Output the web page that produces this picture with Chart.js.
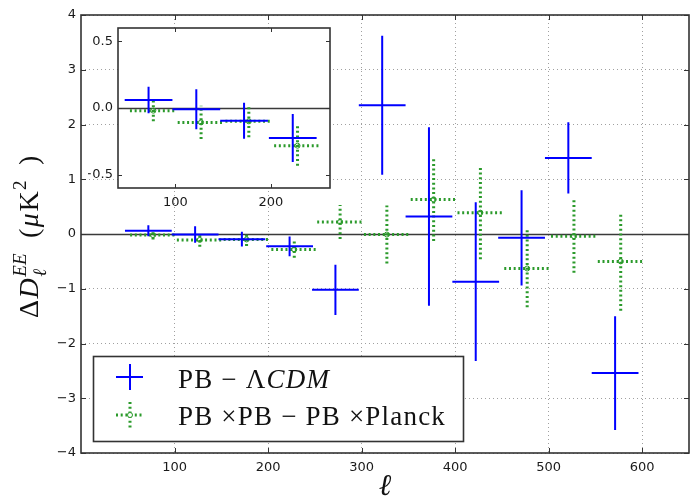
<!DOCTYPE html>
<html>
<head>
<meta charset="utf-8">
<script src="https://cdn.jsdelivr.net/npm/chart.js@4.4.1/dist/chart.umd.min.js"></script>
<style>
  html, body { margin: 0; padding: 0; background: #fff; }
  #wrap { position: relative; width: 697px; height: 502px; }
  #wrap canvas { position: absolute; left: 0; top: 0; }
</style>
</head>
<body>
<div id="wrap">
  <canvas id="main" width="697" height="502"></canvas>
  <canvas id="inset" width="697" height="502"></canvas>
</div>
<script>
// PB - LCDM: bin centres, values and errors
const blueCenters = [72, 122, 172, 223, 272, 322, 372, 422, 471, 521, 571];
const blueValues = [0.06, -0.01, -0.095, -0.225, -1.02, 2.35, 0.32, -0.87, -0.07, 1.39, -2.54];
const blueErrors = [0.10, 0.15, 0.135, 0.18, 0.46, 1.27, 1.63, 1.45, 0.87, 0.65, 1.04];
const blueHalfWidth = 25;

// PBxPB - PBxPlanck
const greenCenters = [77, 127, 177, 228, 277, 327, 377, 427, 477, 527, 577];
const greenValues = [-0.02, -0.108, -0.10, -0.283, 0.22, -0.01, 0.63, 0.39, -0.63, -0.04, -0.50];
const greenErrors = [0.08, 0.125, 0.12, 0.15, 0.31, 0.53, 0.76, 0.85, 0.71, 0.67, 0.90];
const greenHalfWidth = 24.5;

const xTicks = [100, 200, 300, 400, 500, 600];
const yTicks = [-4, -3, -2, -1, 0, 1, 2, 3, 4];
const insetXTicks = [100, 200];
const insetYTicks = [-0.5, 0, 0.5];
const insetPoints = 4;

const BLUE = '#0000ff';
const GREEN = '#2b9a2b';
const FRAME = '#333333';
const SERIF = '"Liberation Serif", "DejaVu Serif", serif';
const SANS = '"DejaVu Sans", sans-serif';

const minus = (s) => String(s).replace('-', '\u2212');

// each point is a cross: horizontal bin bar + vertical error bar, split by gaps
const crossPoints = (centers, values, errors, halfWidth) => {
  const pts = [];
  centers.forEach((x, i) => {
    const y = values[i];
    pts.push({ x: x - halfWidth, y }, { x: x + halfWidth, y }, { x, y: null });
    pts.push({ x, y: y - errors[i] }, { x, y: y + errors[i] }, { x, y: null });
  });
  return pts;
};

const buildDatasets = (n) => [
  {
    data: crossPoints(blueCenters.slice(0, n), blueValues, blueErrors, blueHalfWidth),
    borderColor: BLUE,
    borderWidth: 2,
    pointRadius: 0,
    spanGaps: false,
    tension: 0,
  },
  {
    data: crossPoints(greenCenters.slice(0, n), greenValues, greenErrors, greenHalfWidth),
    borderColor: GREEN,
    borderWidth: 3,
    borderDash: [2, 2.7],
    borderCapStyle: 'butt',
    pointRadius: 0,
    spanGaps: false,
    tension: 0,
  },
  {
    data: greenCenters.slice(0, n).map((x, i) => ({ x, y: greenValues[i] })),
    showLine: false,
    pointRadius: 2.5,
    pointBorderWidth: 1,
    pointBorderColor: GREEN,
    pointBackgroundColor: 'rgba(0,0,0,0)',
  },
];

const axis = (min, max, ticks, isX, size, showGrid, fmt) => ({
  type: 'linear',
  min,
  max,
  afterBuildTicks: (s) => { s.ticks = ticks.map((v) => ({ value: v })); },
  afterFit: (s) => { if (isX) s.height = size; else s.width = size; },
  grid: { display: showGrid, drawTicks: false, color: '#a0a0a0', lineWidth: 1 },
  border: { display: false, dash: [1, 3] },
  ticks: {
    autoSkip: false,
    maxRotation: 0,
    padding: isX ? 7 : 5,
    color: '#1a1a1a',
    font: { family: SANS, size: 13 },
    callback: (v) => minus(fmt(v)),
  },
});

const framePlugin = (tickLen, fillArea) => ({
  id: 'frame',
  beforeDraw(chart) {
    if (!fillArea) return;
    const { ctx, chartArea: a } = chart;
    ctx.save();
    ctx.fillStyle = '#fff';
    ctx.fillRect(a.left, a.top, a.right - a.left, a.bottom - a.top);
    ctx.restore();
  },
  beforeDatasetsDraw(chart) {
    const { ctx, chartArea: a, scales } = chart;
    const y0 = Math.round(scales.y.getPixelForValue(0)) + 0.5;
    ctx.save();
    ctx.strokeStyle = '#3a3a3a';
    ctx.lineWidth = 1.5;
    ctx.beginPath();
    ctx.moveTo(a.left, y0);
    ctx.lineTo(a.right, y0);
    ctx.stroke();
    ctx.restore();
  },
  afterDatasetsDraw(chart) {
    const { ctx, chartArea: a, scales } = chart;
    ctx.save();
    ctx.strokeStyle = FRAME;
    ctx.lineWidth = 1;
    ctx.beginPath();
    scales.x.ticks.forEach((t) => {
      const px = Math.round(scales.x.getPixelForValue(t.value)) + 0.5;
      ctx.moveTo(px, a.top); ctx.lineTo(px, a.top + tickLen);
      ctx.moveTo(px, a.bottom); ctx.lineTo(px, a.bottom - tickLen);
    });
    scales.y.ticks.forEach((t) => {
      const py = Math.round(scales.y.getPixelForValue(t.value)) + 0.5;
      ctx.moveTo(a.left, py); ctx.lineTo(a.left + tickLen, py);
      ctx.moveTo(a.right, py); ctx.lineTo(a.right - tickLen, py);
    });
    ctx.stroke();
    ctx.lineWidth = 1.6;
    ctx.strokeRect(a.left, a.top, a.right - a.left, a.bottom - a.top);
    ctx.restore();
  },
});

const drawLegend = (ctx) => {
  ctx.save();
  ctx.fillStyle = '#fff';
  ctx.fillRect(93.5, 356.5, 370, 85);
  ctx.strokeStyle = FRAME;
  ctx.lineWidth = 1.6;
  ctx.strokeRect(93.5, 356.5, 370, 85);

  // blue symbol
  ctx.strokeStyle = BLUE;
  ctx.lineWidth = 2;
  ctx.beginPath();
  ctx.moveTo(116, 377); ctx.lineTo(143, 377);
  ctx.moveTo(130, 364); ctx.lineTo(130, 390);
  ctx.stroke();

  // green symbol
  ctx.strokeStyle = GREEN;
  ctx.lineWidth = 3;
  ctx.setLineDash([2, 2.7]);
  ctx.beginPath();
  ctx.moveTo(116, 415); ctx.lineTo(143, 415);
  ctx.moveTo(130, 402); ctx.lineTo(130, 428);
  ctx.stroke();
  ctx.setLineDash([]);
  ctx.lineWidth = 1;
  ctx.fillStyle = '#fff';
  ctx.beginPath();
  ctx.arc(130, 415, 2.5, 0, Math.PI * 2);
  ctx.fill();
  ctx.stroke();

  ctx.fillStyle = '#111';
  ctx.textBaseline = 'alphabetic';
  ctx.letterSpacing = '1.2px';
  ctx.font = `27px ${SERIF}`;
  let x = 178;
  const first = 'PB \u2212 \u039B';
  ctx.fillText(first, x, 388);
  x += ctx.measureText(first).width;
  ctx.font = `italic 27px ${SERIF}`;
  ctx.fillText('CDM', x, 388);
  ctx.font = `27px ${SERIF}`;
  ctx.fillText('PB \u00D7PB \u2212 PB \u00D7Planck', 178, 425);
  ctx.restore();
};

const drawAxisLabels = (ctx) => {
  ctx.save();
  ctx.fillStyle = '#111';
  ctx.textBaseline = 'alphabetic';
  // x label
  ctx.font = `italic 30px ${SERIF}`;
  ctx.textAlign = 'center';
  ctx.fillText('\u2113', 385, 495);

  // y label, rotated
  ctx.textAlign = 'left';
  const big = 28, small = 19;
  const parts = [
    { t: '\u0394', f: `${big}px ${SERIF}`, dy: 0 },
    { t: 'D', f: `italic ${big}px ${SERIF}`, dy: 0 },
    { t: 'EE', f: `italic ${small}px ${SERIF}`, dy: -12, sub: '\u2113' },
    { t: '  (', f: `${big}px ${SERIF}`, dy: 0 },
    { t: '\u03BC', f: `italic ${big}px ${SERIF}`, dy: 0 },
    { t: 'K', f: `${big}px ${SERIF}`, dy: 0 },
    { t: '2', f: `${small}px ${SERIF}`, dy: -12 },
    { t: '  )', f: `${big}px ${SERIF}`, dy: 0 },
  ];
  let total = 0;
  parts.forEach((p) => { ctx.font = p.f; p.w = ctx.measureText(p.t).width + 1.5; total += p.w; });
  ctx.translate(38, 236);
  ctx.rotate(-Math.PI / 2);
  let x = -total / 2;
  parts.forEach((p) => {
    ctx.font = p.f;
    ctx.fillText(p.t, x, p.dy);
    if (p.sub) ctx.fillText(p.sub, x, 8);
    x += p.w;
  });
  ctx.restore();
};

const baseOptions = {
  responsive: false,
  animation: false,
  devicePixelRatio: 1,
  events: [],
  plugins: { legend: { display: false }, tooltip: { enabled: false } },
};

new Chart(document.getElementById('main'), {
  type: 'line',
  data: { datasets: buildDatasets(blueCenters.length) },
  options: {
    ...baseOptions,
    layout: { padding: { left: 41, top: 15, right: 8, bottom: 19 } },
    scales: {
      x: axis(0, 650, xTicks, true, 30, true, (v) => v),
      y: axis(-4, 4, yTicks, false, 40, true, (v) => v),
    },
  },
  plugins: [
    framePlugin(5, false),
    { id: 'decor', afterDraw(chart) { drawLegend(chart.ctx); drawAxisLabels(chart.ctx); } },
  ],
});

new Chart(document.getElementById('inset'), {
  type: 'line',
  data: { datasets: buildDatasets(insetPoints) },
  options: {
    ...baseOptions,
    layout: { padding: { left: 88, top: 28, right: 367, bottom: 289 } },
    scales: {
      x: axis(40, 262, insetXTicks, true, 25, false, (v) => v),
      y: axis(-0.6, 0.6, insetYTicks, false, 30, false, (v) => Number(v).toFixed(1)),
    },
  },
  plugins: [framePlugin(4, true)],
});
</script>
</body>
</html>
